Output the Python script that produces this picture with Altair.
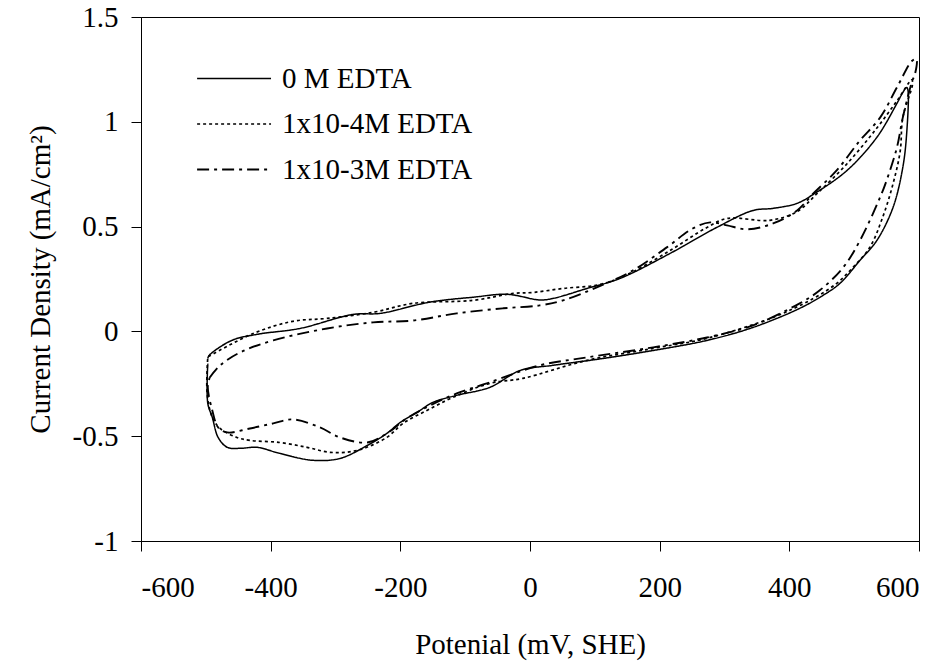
import altair as alt
import pandas as pd

# ---- data (potential mV, current density mA/cm2) ----
series_names = ["0 M EDTA", "1x10-4M EDTA", "1x10-3M EDTA"]

x0 = [-497, -495, -460, -421, -355, -273, -231, -154, -88, -35, 15, 35, 88, 139, 216, 288, 344, 375,
      412, 437, 489, 535, 566, 575, 581, 583, 581, 575, 560, 535, 509, 478, 452, 416, 344, 273,
      190, 113, 35, -15, -62, -113, -150, -174, -200, -221, -251, -293, -335, -386, -421, -447,
      -467, -481, -490, -497, -497]
y0 = [-0.13, -0.115, -0.043, -0.014, 0.014, 0.081, 0.086, 0.14, 0.163, 0.177, 0.15, 0.157, 0.205,
      0.253, 0.372, 0.496, 0.577, 0.587, 0.611, 0.654, 0.768, 0.926, 1.088, 1.14, 1.164, 1.15,
      0.945, 0.782, 0.592, 0.434, 0.339, 0.229, 0.172, 0.11, 0.019, -0.043, -0.091, -0.129,
      -0.162, -0.186, -0.267, -0.305, -0.339, -0.386, -0.434, -0.487, -0.544, -0.606, -0.615,
      -0.582, -0.553, -0.558, -0.553, -0.506, -0.41, -0.343, -0.153]

x1 = [-496, -427, -366, -313, -242, -180, -88, -26, 5, 51, 108, 154, 216, 273, 304, 370, 412, 443,
      489, 535, 566, 589, 590, 575, 571, 560, 544, 524, 498, 473, 437, 375, 273, 190, 88, -11,
      -62, -119, -159, -196, -221, -267, -308, -344, -386, -432, -452, -478, -490, -498, -497]
y1 = [-0.12, -0.01, 0.048, 0.062, 0.091, 0.134, 0.148, 0.181, 0.186, 0.205, 0.224, 0.277, 0.386,
      0.496, 0.539, 0.53, 0.572, 0.658, 0.8, 0.97, 1.1, 1.2, 1.18, 1.02, 0.86, 0.705, 0.545, 0.4,
      0.305, 0.229, 0.157, 0.067, -0.033, -0.081, -0.138, -0.224, -0.248, -0.315, -0.377,
      -0.439, -0.506, -0.568, -0.577, -0.553, -0.53, -0.52, -0.506, -0.463, -0.41, -0.296, -0.124]

x2 = [-494, -478, -447, -396, -313, -242, -180, -113, -42, 15, 51, 103, 159, 211, 251, 278, 304,
      335, 375, 412, 437, 473, 509, 540, 566, 589, 596, 594, 589, 575, 566, 550, 540, 509, 483,
      447, 416, 344, 273, 190, 88, 15, -62, -113, -154, -190, -221, -251, -293, -324, -366,
      -396, -432, -467, -481, -490, -497, -494]
y2 = [-0.22, -0.162, -0.1, -0.043, 0.014, 0.043, 0.052, 0.086, 0.11, 0.124, 0.148, 0.21, 0.291,
      0.401, 0.491, 0.52, 0.506, 0.487, 0.515, 0.577, 0.658, 0.768, 0.911, 1.02, 1.164, 1.29,
      1.3, 1.23, 1.19, 1.02, 0.878, 0.72, 0.64, 0.434, 0.305, 0.196, 0.134, 0.029, -0.029,
      -0.076, -0.124, -0.162, -0.243, -0.296, -0.353, -0.415, -0.487, -0.53, -0.506, -0.458,
      -0.42, -0.439, -0.463, -0.482, -0.458, -0.377, -0.267, -0.22]

x_ticks = [-600, -400, -200, 0, 200, 400, 600]
y_ticks = [-1, -0.5, 0, 0.5, 1, 1.5]

rows = []
for name, xs, ys in zip(series_names, [x0, x1, x2], [y0, y1, y2]):
    for i, (a, b) in enumerate(zip(xs, ys)):
        rows.append({"series": name, "E": a, "i": b, "k": i})
df = pd.DataFrame(rows)

FONT = "Liberation Serif"
FS = 29

chart = alt.Chart(df).mark_line(
    interpolate="catmull-rom", color="black"
).encode(
    x=alt.X("E:Q", scale=alt.Scale(domain=[-600, 600], nice=False, zero=False),
            axis=alt.Axis(values=x_ticks, title="Potenial (mV, SHE)",
                          labelExpr="'' + datum.value", grid=False,
                          tickSize=10, labelPadding=22, titlePadding=28)),
    y=alt.Y("i:Q", scale=alt.Scale(domain=[-1, 1.5], nice=False, zero=False),
            axis=alt.Axis(values=y_ticks, title="Current Density (mA/cm²)",
                          labelExpr="'' + datum.value", grid=False,
                          tickSize=10, labelPadding=13, titlePadding=17,
                          titleLimit=600)),
    strokeDash=alt.StrokeDash(
        "series:N",
        scale=alt.Scale(domain=series_names, range=[[1, 0], [3, 3], [12, 5, 3, 5]]),
        legend=alt.Legend(title=None, orient="none", legendX=55, legendY=38,
                          symbolType="M-1,0H2.3", symbolSize=2007, symbolStrokeWidth=1.8,
                          symbolStrokeColor="black", symbolFillColor="transparent",
                          labelFontSize=FS, labelFont=FONT,
                          labelColor="black", rowPadding=6.5, labelOffset=39,
                          labelLimit=600),
    ),
    strokeWidth=alt.StrokeWidth(
        "series:N",
        scale=alt.Scale(domain=series_names, range=[1.5, 1.9, 1.6]),
        legend=None,
    ),
    order="k:Q",
).properties(
    width=778, height=524,
    background="white",
    autosize=alt.AutoSizeParams(type="none"),
    padding={"left": 141, "top": 17, "right": 26, "bottom": 120},
).configure_view(
    stroke="black", strokeWidth=1
).configure_axis(
    labelFont=FONT, titleFont=FONT, labelFontSize=FS, titleFontSize=FS,
    labelColor="black", titleColor="black", domainColor="black", tickColor="black",
    titleFontWeight="normal",
)

chart.save("out.html", embed_options={"renderer": "svg", "actions": False})
